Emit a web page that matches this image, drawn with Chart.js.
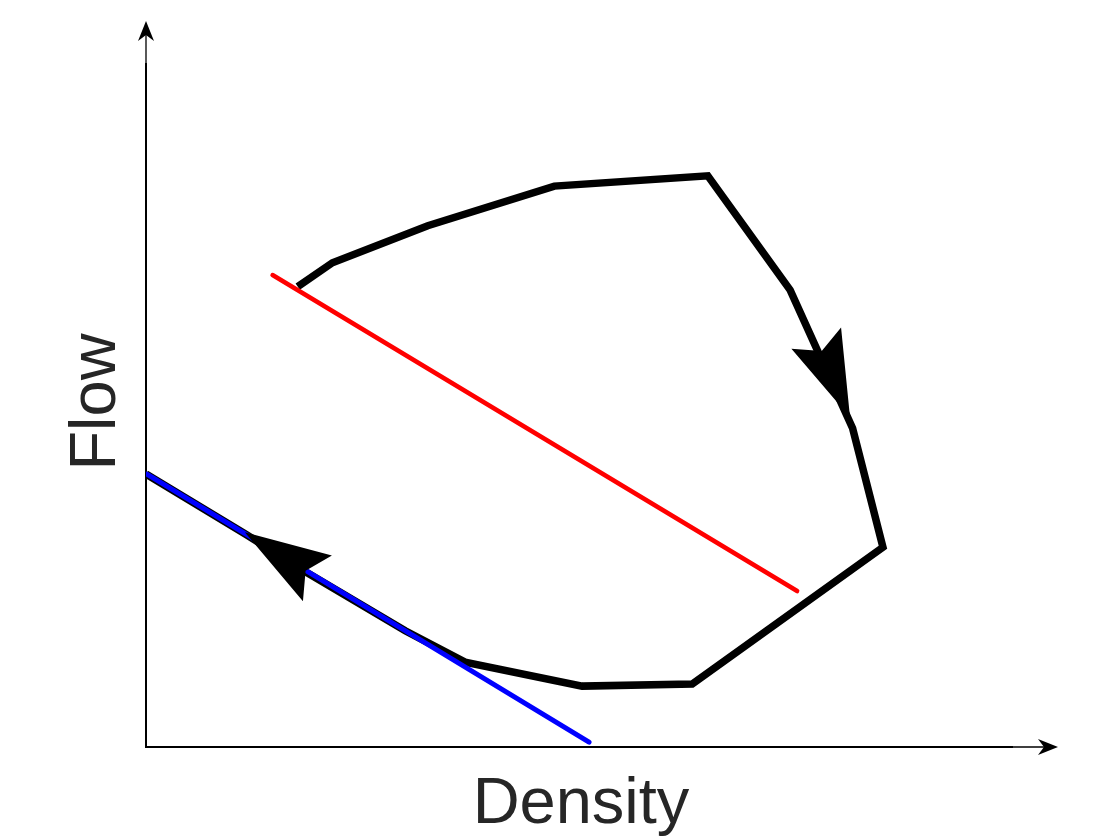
<!DOCTYPE html>
<html>
<head>
<meta charset="utf-8">
<script src="https://cdn.jsdelivr.net/npm/chart.js@4/dist/chart.umd.min.js"></script>
<style>
  html, body { margin: 0; padding: 0; background: #ffffff; }
  #wrap { width: 1120px; height: 840px; }
</style>
</head>
<body>
<div id="wrap"><canvas id="c" width="1120" height="840"></canvas></div>
<script>
// ---- data (x: density, y: flow; both on a 0..100 scale) ----
const loopX = [17.5, 21.5, 32.5, 47.1, 64.8, 74.3, 81.5, 85.0, 63.0, 50.3, 36.8, 29.9, 18.3, 11.5, 0.0];
const loopY = [67.3, 70.8, 76.2, 82.0, 83.5, 66.8, 46.6, 29.2, 9.2, 8.9, 12.4, 17.0, 25.7, 31.1, 39.9];
const redX = [14.6, 75.1];
const redY = [69.0, 22.8];
const blueX = [0.1, 51.1];
const blueY = [39.9, 0.7];
// arrowheads on the loop: tip point and a point behind it (direction)
const arrowTipX = [81.2, 11.4];
const arrowTipY = [48.2, 31.4];
const arrowBackX = [78.0, 18.6];
const arrowBackY = [57.7, 25.6];
const xTitle = 'Density';
const yTitle = 'Flow';

const pts = (xs, ys) => xs.map((x, i) => ({ x: x, y: ys[i] }));

const TEXT_COLOR = '#262626';
const FONT = '65px "Liberation Sans", Arial, Helvetica, sans-serif';

function drawHead(ctx, tx, ty, bx, by, len, notch, half) {
  const dx = bx - tx, dy = by - ty;
  const d = Math.hypot(dx, dy);
  const ux = dx / d, uy = dy / d;
  const px = -uy, py = ux;
  ctx.beginPath();
  ctx.moveTo(tx, ty);
  ctx.lineTo(tx + ux * len + px * half, ty + uy * len + py * half);
  ctx.lineTo(tx + ux * notch, ty + uy * notch);
  ctx.lineTo(tx + ux * len - px * half, ty + uy * len - py * half);
  ctx.closePath();
  ctx.fill();
}

const decor = {
  id: 'decor',
  beforeDatasetsDraw(chart) {
    const { ctx, chartArea: a } = chart;
    ctx.save();
    ctx.strokeStyle = '#000';
    ctx.fillStyle = '#000';
    // thick axis lines along the plot area
    ctx.lineWidth = 2;
    ctx.beginPath();
    ctx.moveTo(a.left, a.top);
    ctx.lineTo(a.left, a.bottom);
    ctx.lineTo(a.right, a.bottom);
    ctx.stroke();
    // thin arrow extensions
    ctx.lineWidth = 1.3;
    ctx.beginPath();
    ctx.moveTo(a.left, a.top);
    ctx.lineTo(a.left, 30);
    ctx.moveTo(a.right, a.bottom);
    ctx.lineTo(1050, a.bottom);
    ctx.stroke();
    drawHead(ctx, a.left, 21, a.left, 40, 20, 14, 8);
    drawHead(ctx, 1058, a.bottom, 1040, a.bottom, 20, 14, 8);
    // titles
    ctx.fillStyle = TEXT_COLOR;
    ctx.font = FONT;
    ctx.textAlign = 'center';
    ctx.textBaseline = 'alphabetic';
    ctx.fillText(xTitle, 581, 823);
    ctx.translate(115, 402);
    ctx.rotate(-Math.PI / 2);
    ctx.fillText(yTitle, 0, 0);
    ctx.restore();
  },
  afterDatasetsDraw(chart) {
    const { ctx, scales: { x, y } } = chart;
    ctx.save();
    ctx.fillStyle = '#000';
    for (let i = 0; i < arrowTipX.length; i++) {
      drawHead(ctx,
        x.getPixelForValue(arrowTipX[i]), y.getPixelForValue(arrowTipY[i]),
        x.getPixelForValue(arrowBackX[i]), y.getPixelForValue(arrowBackY[i]),
        86, 72, 27);
    }
    ctx.restore();
  }
};

new Chart(document.getElementById('c'), {
  type: 'scatter',
  data: {
    datasets: [
      { label: 'Blue', data: pts(blueX, blueY), showLine: true, borderColor: '#0000ff',
        borderWidth: 5, borderCapStyle: 'round', pointRadius: 0, order: 1 },
      { label: 'Red', data: pts(redX, redY), showLine: true, borderColor: '#ff0000',
        borderWidth: 4.5, borderCapStyle: 'round', pointRadius: 0, order: 2 },
      { label: 'Loop', data: pts(loopX, loopY), showLine: true, borderColor: '#000000',
        borderWidth: 7.5, borderJoinStyle: 'miter', borderCapStyle: 'butt', pointRadius: 0, order: 3 }
    ]
  },
  options: {
    responsive: false,
    animation: false,
    events: [],
    layout: { padding: { left: 146, right: 107, top: 63, bottom: 93 } },
    plugins: { legend: { display: false }, tooltip: { enabled: false } },
    scales: {
      x: { type: 'linear', min: 0, max: 100, display: false },
      y: { type: 'linear', min: 0, max: 100, display: false }
    }
  },
  plugins: [decor]
});
</script>
</body>
</html>
